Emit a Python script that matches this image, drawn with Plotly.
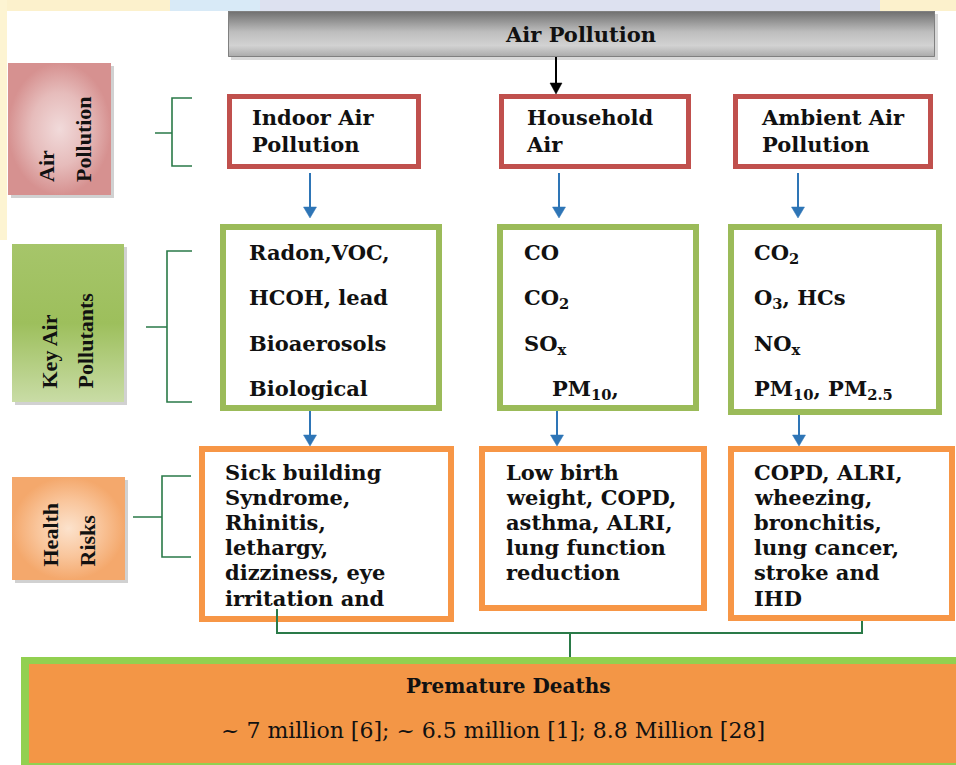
import plotly.graph_objects as go

# ---------------- DATA (text content) ----------------
header_text = "Air Pollution"
level_labels = [["Air", "Pollution"], ["Key Air", "Pollutants"], ["Health", "Risks"]]
source_labels = ["Indoor Air<br>Pollution", "Household<br>Air", "Ambient Air<br>Pollution"]
pollutant_lines = [
    ["Radon,VOC,", "HCOH, lead", "Bioaerosols", "Biological"],
    ["CO", "CO<sub>2</sub>", "SO<sub>x</sub>", "PM<sub>10</sub>,"],
    ["CO<sub>2</sub>", "O<sub>3</sub>, HCs", "NO<sub>x</sub>", "PM<sub>10</sub>, PM<sub>2.5</sub>"],
]
risk_lines = [
    ["Sick building", "Syndrome,", "Rhinitis,", "lethargy,", "dizziness, eye", "irritation and"],
    ["Low birth", "weight, COPD,", "asthma, ALRI,", "lung function", "reduction"],
    ["COPD, ALRI,", "wheezing,", "bronchitis,", "lung cancer,", "stroke and", "IHD"],
]
outcome_title = "Premature Deaths"
outcome_estimates = "~ 7 million [6]; ~ 6.5 million [1]; 8.8 Million [28]"

# ---------------- LAYOUT GEOMETRY (pixels) ----------------
W, H = 956, 765
RED, GREEN, ORANGE = "#c0504d", "#9bbb59", "#f79646"
BLUE, DKGREEN = "#2e75b6", "#2a7a48"
BOLD = dict(family="DejaVu Serif", size=21, color="#111111", weight=700)

row1_x = [(227, 421), (499, 691), (733, 933)]
row1_y = (94, 169)
row1_tx = [250, 524, 759]
row2_x = [(220, 442), (497, 699), (728, 942)]
row2_y = [(224, 411), (224, 411), (224, 415)]
row2_tx = [247, 522, 752]
row2_ty = [251, 296, 342, 387]
row2_indent = {(1, 3): 28}
row3_x = [(199, 454), (479, 707), (728, 955)]
row3_y = [(446, 622), (446, 611), (446, 621)]
row3_tx = [223, 504, 752]
row3_ty0, row3_dy = 472, 25.2
arrow1_x = [310, 559, 798]
arrow2_x = [310, 557, 799]

side_boxes = [(8, 63, 111, 195), (12, 244, 124, 402), (12, 477, 125, 580)]
side_text_x = [(46, 83), (48.5, 84.5), (49.5, 86.5)]
side_text_bottom = [184, 391, 569]
side_grad = [
    dict(type="radial", colorscale=[[0, "#f1dada"], [0.55, "#e6bcbb"], [1, "#d69190"]]),
    dict(type="vertical", colorscale=[[0, "#c9dca6"], [0.5, "#9dbf5c"], [1, "#a6c56a"]]),
    dict(type="radial", colorscale=[[0, "#fce2cc"], [0.55, "#f9c59b"], [1, "#f4a86c"]]),
]
brackets = [  # (stub_x, vert_x, right_x, top, mid, bottom)
    (155, 172, 192, 98, 133, 166),
    (146, 167, 192, 251, 327, 402),
    (133, 162, 191, 476, 517, 557),
]

fig = go.Figure()
shapes, annotations = [], []


def rect(x0, y0, x1, y1, color, width, fill="white", layer="above"):
    h = width / 2
    shapes.append(dict(type="rect", xref="x", yref="y", x0=x0 + h, y0=y0 + h, x1=x1 - h, y1=y1 - h,
                       line=dict(color=color, width=width), fillcolor=fill, layer=layer))


def solid(x0, y0, x1, y1, fill, layer="above"):
    shapes.append(dict(type="rect", xref="x", yref="y", x0=x0, y0=y0, x1=x1, y1=y1,
                       line=dict(width=0), fillcolor=fill, layer=layer))


def arrow(x, y0, y1, color, lw=2, hw=13, hh=11):
    shapes.append(dict(type="line", xref="x", yref="y", x0=x, x1=x, y0=y0, y1=y1 - hh + 1,
                       line=dict(color=color, width=lw)))
    shapes.append(dict(type="path", xref="x", yref="y",
                       path=f"M {x - hw / 2},{y1 - hh} L {x + hw / 2},{y1 - hh} L {x},{y1} Z",
                       fillcolor=color, line=dict(color=color, width=0.5)))


def grad_box(x0, y0, x1, y1, grad):
    fig.add_trace(go.Scatter(x=[x0, x1, x1, x0, x0], y=[y0, y0, y1, y1, y0], fill="toself",
                             fillgradient=grad, mode="lines", line=dict(width=0),
                             hoverinfo="skip", showlegend=False))


def text(x, y, s, font, xanchor="left", yanchor="middle", angle=0, align="left"):
    annotations.append(dict(x=x, y=y, xref="x", yref="y", text=s, showarrow=False, font=font,
                            xanchor=xanchor, yanchor=yanchor, textangle=angle, align=align))


# faint watermark background strips
solid(0, 0, W, 11, "#dde1f0", layer="below")
solid(0, 0, 170, 11, "#fcf1cc", layer="below")
solid(170, 0, 260, 11, "#d8eaf7", layer="below")
solid(880, 0, W, 11, "#fcf1cc", layer="below")
solid(0, 0, 7, 240, "#fdf4d2", layer="below")

# header bar
solid(231, 14, 938, 60, "rgba(0,0,0,0.15)", layer="below")
grad_box(228, 11, 935, 57, dict(type="vertical",
                                colorscale=[[0, "#a9a9a9"], [0.25, "#d2d2d2"], [0.55, "#bdbdbd"], [1, "#6e6e6e"]]))
shapes.append(dict(type="rect", xref="x", yref="y", x0=228.5, y0=11.5, x1=934.5, y1=56.5,
                   line=dict(color="#808080", width=1), fillcolor="rgba(0,0,0,0)"))
text(580, 34, header_text, BOLD, xanchor="center")
arrow(556, 57, 94, "#000000", lw=2, hw=12, hh=11)

# side labels with brackets
for i, (x0, y0, x1, y1) in enumerate(side_boxes):
    solid(x0 + 3, y0 + 3, x1 + 3, y1 + 3, "rgba(0,0,0,0.18)", layer="below")
    grad_box(x0, y0, x1, y1, side_grad[i])
    for j, line in enumerate(level_labels[i]):
        text(side_text_x[i][j], side_text_bottom[i], line,
             dict(family="Liberation Serif", size=22, color="#111111", weight=700),
             xanchor="center", yanchor="bottom", angle=-90)
    sx, vx, rx, top, mid, bot = brackets[i]
    shapes.append(dict(type="path", xref="x", yref="y",
                       path=f"M {rx},{top} L {vx},{top} L {vx},{bot} L {rx},{bot} M {sx},{mid} L {vx},{mid}",
                       line=dict(color=DKGREEN, width=1.6)))

# row 1: pollution sources
for k in range(3):
    x0, x1 = row1_x[k]
    rect(x0, row1_y[0], x1, row1_y[1], RED, 5)
    text(row1_tx[k], (row1_y[0] + row1_y[1]) / 2 - 1, source_labels[k], BOLD)
    arrow(arrow1_x[k], 173, 218, BLUE)

# row 2: key pollutants
for k in range(3):
    x0, x1 = row2_x[k]
    rect(x0, row2_y[k][0], x1, row2_y[k][1], GREEN, 6)
    for j, line in enumerate(pollutant_lines[k]):
        text(row2_tx[k] + row2_indent.get((k, j), 0), row2_ty[j] - 13, line, BOLD, yanchor="top")
    arrow(arrow2_x[k], row2_y[k][1], 446, BLUE)

# row 3: health risks
for k in range(3):
    x0, x1 = row3_x[k]
    rect(x0, row3_y[k][0], x1, row3_y[k][1], ORANGE, 6)
    for j, line in enumerate(risk_lines[k]):
        text(row3_tx[k], row3_ty0 + j * row3_dy, line, BOLD)

# connectors to outcome box
shapes.append(dict(type="path", xref="x", yref="y",
                   path="M 277,609 L 277,633 L 862,633 L 862,621 M 570,633 L 570,658",
                   line=dict(color=DKGREEN, width=2)))

# outcome box
solid(21, 657, W, H, "#92d050")
solid(29, 664, W, 763, "#f39646")
text(508, 686, outcome_title, dict(family="DejaVu Serif", size=20, color="#111111", weight=700),
     xanchor="center")
text(493, 730, outcome_estimates, dict(family="DejaVu Serif", size=22, color="#111111"),
     xanchor="center")

fig.update_layout(
    width=W, height=H, margin=dict(l=0, r=0, t=0, b=0),
    paper_bgcolor="white", plot_bgcolor="white",
    xaxis=dict(range=[0, W], visible=False, fixedrange=True),
    yaxis=dict(range=[H, 0], visible=False, fixedrange=True),
    shapes=shapes, annotations=annotations, showlegend=False,
)
fig.write_html("out.html", config={"displayModeBar": False},
               post_script="document.body.style.margin='0';document.body.style.overflow='hidden';")
